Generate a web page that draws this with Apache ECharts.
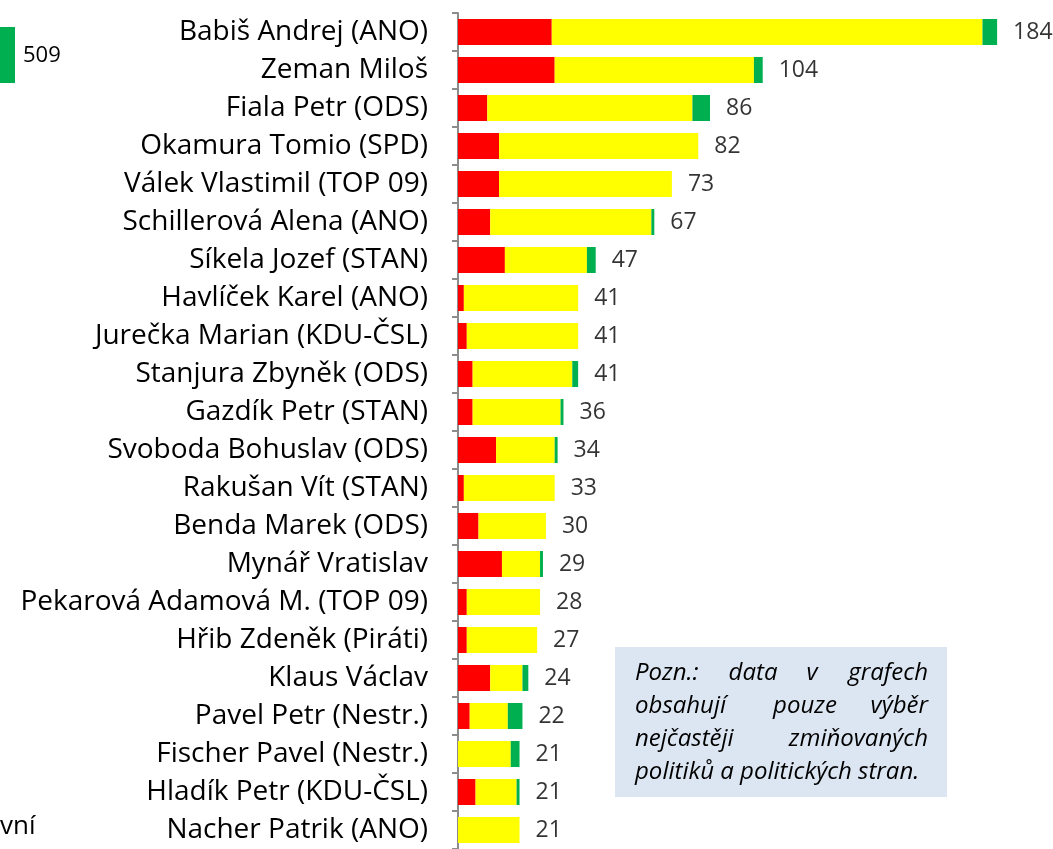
<!DOCTYPE html>
<html>
<head>
<meta charset="utf-8">
<script src="https://cdn.jsdelivr.net/npm/echarts@6/dist/echarts.min.js"></script>
<style>
  html, body { margin: 0; padding: 0; background: #fff; }
  #container { width: 1053px; height: 849px; }
</style>
</head>
<body>
<div id="container"></div>
<script>
// politici - pocet zminek podle tonu
var politici = [
    'Babiš Andrej (ANO)', 'Zeman Miloš', 'Fiala Petr (ODS)', 'Okamura Tomio (SPD)',
    'Válek Vlastimil (TOP 09)', 'Schillerová Alena (ANO)', 'Síkela Jozef (STAN)',
    'Havlíček Karel (ANO)', 'Jurečka Marian (KDU-ČSL)', 'Stanjura Zbyněk (ODS)',
    'Gazdík Petr (STAN)', 'Svoboda Bohuslav (ODS)', 'Rakušan Vít (STAN)',
    'Benda Marek (ODS)', 'Mynář Vratislav', 'Pekarová Adamová M. (TOP 09)',
    'Hřib Zdeněk (Piráti)', 'Klaus Václav', 'Pavel Petr (Nestr.)',
    'Fischer Pavel (Nestr.)', 'Hladík Petr (KDU-ČSL)', 'Nacher Patrik (ANO)'
];
// negativni (cervena)
var negativni = [32, 33, 10, 14, 14, 11, 16, 2, 3, 5, 5, 13, 2, 7, 15, 3, 3, 11, 4, 0, 6, 0];
// neutralni (zluta)
var neutralni = [147, 68, 70, 68, 59, 55, 28, 39, 38, 34, 30, 20, 31, 23, 13, 25, 24, 11, 13, 18, 14, 21];
// pozitivni (zelena)
var pozitivni = [5, 3, 6, 0, 0, 1, 3, 0, 0, 2, 1, 1, 0, 0, 1, 0, 0, 2, 5, 3, 1, 0];
// celkem - popisky na konci
var celkem = [184, 104, 86, 82, 73, 67, 47, 41, 41, 41, 36, 34, 33, 30, 29, 28, 27, 24, 22, 21, 21, 21];

var legendaPozitivni = '509';
var poznamka = [
    ['Pozn.:', 'data', 'v', 'grafech'],
    ['obsahují', 'pouze', 'výběr'],
    ['nejčastěji', 'zmiňovaných'],
    ['politiků a politických stran.']
];

var font = '"Open Sans"';
var dom = document.getElementById('container');
var myChart = echarts.init(dom);

// slova v poznamce rozlozime do bloku (zarovnani do bloku)
var textLeft = 635, textRight = 928, lineY = [673, 706, 739, 772];
var noteFont = 'italic 24px ' + font;
var noteGraphics = [{
    type: 'rect',
    shape: { x: 615, y: 647, width: 332, height: 150 },
    style: { fill: '#dce6f2' },
    z: 1
}];
poznamka.forEach(function (slova, r) {
    if (slova.length === 1) {
        noteGraphics.push({
            type: 'text', x: textLeft, y: lineY[r], z: 2,
            style: { text: slova[0], font: noteFont, fill: '#000', align: 'left', verticalAlign: 'middle' }
        });
        return;
    }
    slova.forEach(function (w, i) {
        var align = i === 0 ? 'left' : (i === slova.length - 1 ? 'right' : 'center');
        var x = i === 0 ? textLeft : textRight;
        if (align === 'center') {
            // stredni slova podle predlohy
            x = slova.length === 4 ? (i === 1 ? 753 : 812) : 805;
        }
        noteGraphics.push({
            type: 'text', x: x, y: lineY[r], z: 2,
            style: { text: w, font: noteFont, fill: '#000', align: align, verticalAlign: 'middle' }
        });
    });
});

var option = {
    animation: false,
    backgroundColor: '#ffffff',
    textStyle: { fontFamily: font },
    grid: { left: 458, top: 13, width: 586, height: 841, containLabel: false },
    xAxis: {
        type: 'value', min: 0, max: 200, show: false
    },
    yAxis: {
        type: 'category',
        data: politici,
        inverse: true,
        axisLine: { show: true, lineStyle: { color: '#8c8c8c', width: 2 } },
        axisTick: { show: true, length: 6, lineStyle: { color: '#8c8c8c', width: 2 } },
        axisLabel: { color: '#000', fontSize: 28, fontFamily: font, margin: 30 }
    },
    series: [
        {
            name: 'negativní', type: 'bar', stack: 'a', data: negativni,
            barWidth: 26, itemStyle: { color: '#ff0000' }
        },
        {
            name: 'neutrální', type: 'bar', stack: 'a', data: neutralni,
            barWidth: 26, itemStyle: { color: '#ffff00' }
        },
        {
            name: 'pozitivní', type: 'bar', stack: 'a', data: pozitivni,
            barWidth: 26, itemStyle: { color: '#00b050' }
        },
        {
            // jen popisky celkem
            name: 'celkem', type: 'scatter', symbolSize: 0, silent: true,
            data: celkem.map(function (v, i) { return [v, politici[i]]; }),
            label: {
                show: true, position: 'right', distance: 16,
                color: '#000', fontSize: 23, fontFamily: font,
                formatter: function (p) { return p.value[0]; }
            }
        }
    ],
    graphic: [
        // kousek legendy vlevo nahore
        { type: 'rect', shape: { x: 0, y: 27, width: 15, height: 56 }, style: { fill: '#00b050' } },
        { type: 'text', x: 23, y: 56, style: { text: legendaPozitivni, font: '22px ' + font, fill: '#000', verticalAlign: 'middle' } },
        { type: 'text', x: 0, y: 827, style: { text: 'vní', font: '26px ' + font, fill: '#000', verticalAlign: 'middle' } }
    ].concat(noteGraphics)
};
myChart.setOption(option);
window.addEventListener('resize', function () {
    myChart.resize();
});
</script>
</body>
</html>
